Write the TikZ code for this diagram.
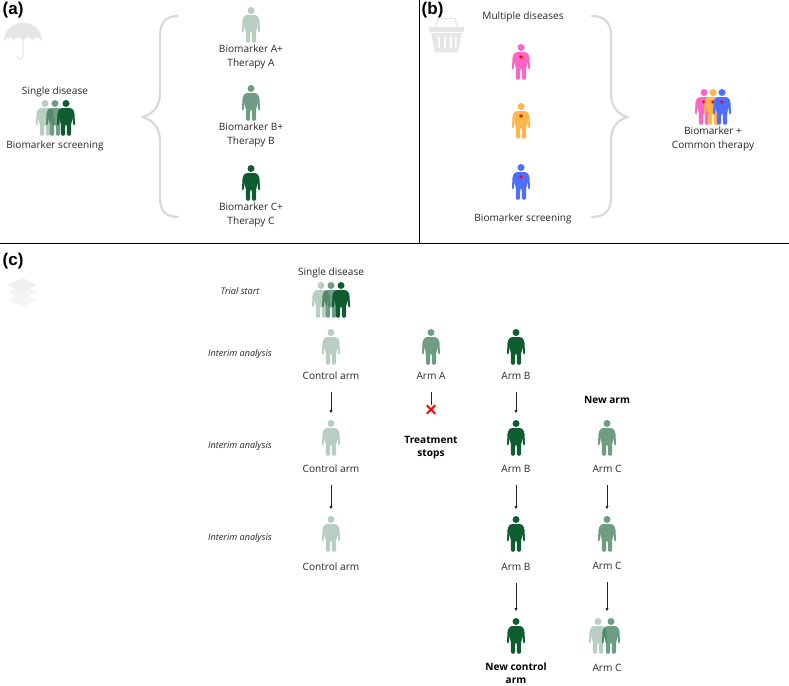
\documentclass[tikz,border=0pt]{standalone}
\usepackage{fontspec}
\setmainfont{Open Sans}
\newfontfamily\panelfont{Liberation Sans}
\usetikzlibrary{arrows.meta,positioning,shapes.geometric,shapes.misc}
\definecolor{inkgrey}{HTML}{262626}
\definecolor{bracegrey}{HTML}{D9D9D9}
\definecolor{icongrey}{HTML}{E6E6E6}
\definecolor{forest}{HTML}{0F5C30}
\definecolor{pinkp}{HTML}{FF66C4}
\definecolor{orangep}{HTML}{FFB64D}
\definecolor{bluep}{HTML}{4D6FFF}
\tikzset{
pics/person/.style={code={
\coordinate (-top) at (0,0);
\coordinate (-bot) at (0,36);
\fill[#1] (3.5,3.5) arc[start angle=0,end angle=-360,radius=3.5]
(0,8) -- (3,8) .. controls (6.2,8) and (8,10) .. (8.5,14) -- (9,24)
.. controls (9,26) and (7.2,26) .. (7.1,24) -- (6.4,16)
.. controls (6.4,19) and (6.2,21) .. (5.2,24) -- (5,34)
.. controls (5,36.4) and (1,36.4) .. (1,34) -- (.7,25) -- (-.7,25) -- (-1,34)
.. controls (-1,36.4) and (-5,36.4) .. (-5,34) -- (-5.2,24)
.. controls (-6.2,21) and (-6.4,19) .. (-6.4,16) -- (-7.1,24)
.. controls (-7.2,26) and (-9,26) .. (-9,24) -- (-8.5,14)
.. controls (-8,10) and (-6.2,8) .. (-3,8) -- cycle;
}},
pics/markedperson/.style={code={
\pic (-fig) at (0,0) {person=#1};
\node[star,star points=5,star point ratio=2.2,fill=red,inner sep=0,minimum size=4.5] (-mark) at (0,13) {};
}},
fig1/.style={fill=forest,fill opacity=.3},
fig2/.style={fill=forest,fill opacity=.6},
fig3/.style={fill=forest},
fig4/.style={fill=pinkp},
fig5/.style={fill=orangep},
fig6/.style={fill=bluep}
}
\begin{document}
\begin{tikzpicture}[x=1pt,y=-1pt,font=\fontsize{10.1}{14.4}\selectfont,text=inkgrey,
lab/.style={align=center,inner sep=0},
timelab/.style={inner sep=0,font=\fontsize{9.1}{11}\selectfont\itshape},
boldlab/.style={align=center,inner sep=0,font=\fontsize{10.1}{13.6}\selectfont\bfseries,text=black},
panel/.style={inner sep=0,anchor=west,text=black,font=\fontsize{17}{17}\selectfont\panelfont\bfseries},
arr/.style={-{Latex[length=3.5pt,width=3.4pt]},color=inkgrey,line width=1pt,shorten <=12pt,shorten >=6.5pt},
bracket/.style={draw=bracegrey,line width=2.2pt,line cap=round},
rule/.style={draw=black,line width=.8pt}]
\useasboundingbox (0,0) rectangle (789,685);
% panel rules
\coordinate (ruleT) at (419,0);
\coordinate (ruleM) at (419,243);
\coordinate (ruleL) at (0,243);
\coordinate (ruleR) at (789,243);
\draw[rule] (ruleT)--(ruleM);
\draw[rule] (ruleL)--(ruleR);
\node[panel] (panelA) at (2.5,10) {(a)};
\node[panel] (panelB) at (421.5,10) {(b)};
\node[panel] (panelC) at (2.5,261) {(c)};
% icons
\fill[icongrey] (4,41) .. controls (4,30) and (13,23) .. (23,22.5) .. controls (33,23) and (42,30) .. (42,41)
.. controls (38,36) and (34,36) .. (32.5,41) .. controls (30,36) and (26,36) .. (23,41)
.. controls (20,36) and (16,36) .. (13.5,41) .. controls (12,36) and (8,36) .. (4,41) -- cycle;
\draw[icongrey,line width=1.2pt,line cap=round] (23,38) -- (23,56) .. controls (23,60) and (17,60) .. (17,56);
\fill[icongrey] (429,27) rectangle (463.5,32);
\fill[icongrey,even odd rule] (431,33) -- (461.5,33) -- (458,52.5) -- (435,52.5) -- cycle
(438,37) rectangle (440,48) (444,37) rectangle (446,48) (450,37) rectangle (452,48) (455,37) rectangle (456.5,48);
\draw[icongrey,line width=1.2pt] (436,27) -- (438,18.5) -- (455,18.5) -- (457,27);
\fill[icongrey!40] (22.5,293) -- (37,300) -- (22.5,307) -- (8,300) -- cycle;
\fill[icongrey!50] (22.5,285) -- (37,292) -- (22.5,299) -- (8,292) -- cycle;
\fill[icongrey!60] (22.5,278) -- (37,285) -- (22.5,292) -- (8,285) -- cycle;
% panel (a)
\pic (aGroup1) at (45,100) {person=fig1};
\pic (aGroup2) at (55,100) {person=fig2};
\pic (aGroup3) at (66,100) {person=fig3};
\node[lab,above=3pt of aGroup2-top] (aSingle) {Single disease};
\node[lab,below=4.5pt of aGroup2-bot] (aScreen) {Biomarker screening};
\draw[bracket] (178,16) .. controls (166,16) and (160,22) .. (160,36) -- (160,92)
.. controls (160,106) and (154,113) .. (143,117) .. controls (154,121) and (160,128) .. (160,142)
-- (160,198) .. controls (160,211) and (166,217) .. (178,217);
\pic (aPersonA) at (251,7) {person=fig1};
\node[lab,below=1.5pt of aPersonA-bot] (aLabelA) {Biomarker A+\\Therapy A};
\pic (aPersonB) at (251,85) {person=fig2};
\node[lab,below=1.5pt of aPersonB-bot] (aLabelB) {Biomarker B+\\Therapy B};
\pic (aPersonC) at (251,165) {person=fig3};
\node[lab,below=1.5pt of aPersonC-bot] (aLabelC) {Biomarker C+\\Therapy C};
% panel (b)
\node[lab] (bMultiple) at (523,17) {Multiple diseases};
\pic (bPerson1) at (521,44) {markedperson=fig4};
\pic (bPerson2) at (521,103) {markedperson=fig5};
\pic (bPerson3) at (521,164) {markedperson=fig6};
\node[lab] (bScreen) at (523,219) {Biomarker screening};
\draw[bracket] (592,16) .. controls (604,16) and (611,22) .. (611,36) -- (611,92)
.. controls (611,106) and (616,113) .. (627,117) .. controls (616,121) and (611,128) .. (611,142)
-- (611,198) .. controls (611,211) and (604,217) .. (592,217);
\pic (bGroup1) at (704,89) {markedperson=fig4};
\pic (bGroup2) at (713,89) {markedperson=fig5};
\pic (bGroup3) at (722,89) {markedperson=fig6};
\node[lab,below=1.5pt of bGroup2-fig-bot] (bLabel) {Biomarker +\\Common therapy};
% panel (c)
\node[timelab] (tStart) at (240,291) {Trial start};
\node[timelab] (tFirst) at (240,354) {Interim analysis};
\node[timelab] (tSecond) at (240,446) {Interim analysis};
\node[timelab] (tThird) at (240,538) {Interim analysis};
\pic (cGroup1) at (321,282) {person=fig1};
\pic (cGroup2) at (331,282) {person=fig2};
\pic (cGroup3) at (341,282) {person=fig3};
\node[lab,above=3.5pt of cGroup2-top] (cSingle) {Single disease};
% control arm
\pic (ctrlOne) at (331,329) {person=fig1};
\node[lab,below=6.5pt of ctrlOne-bot] (ctrlOneLab) {Control arm};
\pic (ctrlTwo) at (331,420) {person=fig1};
\node[lab,below=8.5pt of ctrlTwo-bot] (ctrlTwoLab) {Control arm};
\pic (ctrlThree) at (331,516) {person=fig1};
\node[lab,below=10.5pt of ctrlThree-bot] (ctrlThreeLab) {Control arm};
\draw[arr] (ctrlOneLab)--(ctrlTwo-top);
\draw[arr] (ctrlTwoLab)--(ctrlThree-top);
% arm A
\pic (armA) at (431,329) {person=fig2};
\node[lab,below=7pt of armA-bot] (armALab) {Arm A};
\node[cross out,draw=red,line width=2pt,inner sep=0,minimum size=6.5] (armAStop) at (431,409.5) {};
\draw[color=inkgrey,line width=1pt,shorten <=12pt] (armALab)--(armAStop);
\node[boldlab,below=22pt of armAStop] (armANote) {Treatment\\stops};
% arm B
\pic (armBOne) at (516,329) {person=fig3};
\node[lab,below=7pt of armBOne-bot] (armBOneLab) {Arm B};
\pic (armBTwo) at (516,420) {person=fig3};
\node[lab,below=9pt of armBTwo-bot] (armBTwoLab) {Arm B};
\pic (armBThree) at (516,516) {person=fig3};
\node[lab,below=11pt of armBThree-bot] (armBThreeLab) {Arm B};
\pic (armBFour) at (516,618) {person=fig3};
\node[boldlab,below=8.5pt of armBFour-bot] (armBFourLab) {New control\\arm};
\draw[arr] (armBOneLab)--(armBTwo-top);
\draw[arr] (armBTwoLab)--(armBThree-top);
\draw[arr] (armBThreeLab)--(armBFour-top);
% arm C
\node[boldlab] (armCNew) at (607,400) {New arm};
\pic (armCOne) at (607,420) {person=fig2};
\node[lab,below=9pt of armCOne-bot] (armCOneLab) {Arm C};
\pic (armCTwo) at (607,516) {person=fig2};
\node[lab,below=10pt of armCTwo-bot] (armCTwoLab) {Arm C};
\pic (armCCtrl) at (598,618) {person=fig1};
\pic (armCThree) at (611,618) {person=fig2};
\coordinate[right=9pt of armCCtrl-top] (armCMerge);
\coordinate[right=9pt of armCCtrl-bot] (armCMergeBot);
\node[lab,below=10pt of armCMergeBot] (armCThreeLab) {Arm C};
\draw[arr] (armCOneLab)--(armCTwo-top);
\draw[arr] (armCTwoLab)--(armCMerge);
\end{tikzpicture}
\end{document}
